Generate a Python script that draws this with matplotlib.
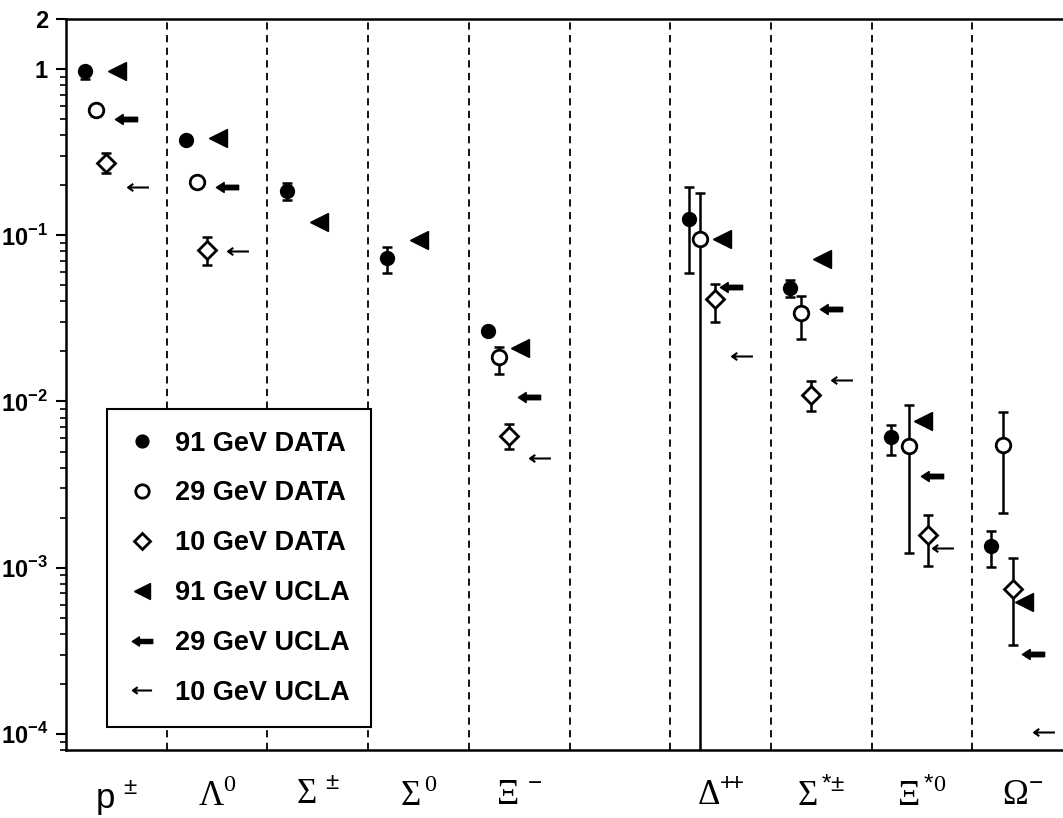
import numpy as np
import matplotlib
matplotlib.use("Agg")
import matplotlib.pyplot as plt
from matplotlib.path import Path
from matplotlib.ticker import FixedLocator, LogLocator, NullFormatter

plt.rcParams['font.family'] = ['Liberation Sans', 'DejaVu Sans']
plt.rcParams['mathtext.fontset'] = 'custom'
plt.rcParams['mathtext.rm'] = 'Liberation Sans'
plt.rcParams['mathtext.bf'] = 'Liberation Sans:bold'
plt.rcParams['mathtext.sf'] = 'Liberation Serif'

nan = np.nan

# particles (empty slot between Xi- and Delta++)
categories = [r'$\mathrm{p}^{\,\pm}$', r'$\mathsf{\Lambda}^{\mathsf{0}}$',
              r'$\mathsf{\Sigma}^{\,\pm}$', r'$\mathsf{\Sigma}^{\,\mathsf{0}}$',
              r'$\mathsf{\Xi}^{\,-}$', '',
              r'$\mathsf{\Delta}^{{+}\!{+}}$', r'$\mathsf{\Sigma}^{\,{*}{\pm}}$',
              r'$\mathsf{\Xi}^{\,{*}\mathsf{0}}$', r'$\mathsf{\Omega}^{-}$']

# y tick values and labels
yticks = [1e-4, 1e-3, 1e-2, 1e-1, 1, 2]
ytick_labels = [r'$\mathbf{10}^{\mathbf{-4}}$', r'$\mathbf{10}^{\mathbf{-3}}$',
                r'$\mathbf{10}^{\mathbf{-2}}$', r'$\mathbf{10}^{\mathbf{-1}}$',
                '1', '2']

# 91 GeV data
d91 = [0.97, 0.375, 0.185, 0.073, 0.0267, nan, 0.126, 0.0484, 0.00608, 0.00135]
d91_lo = [0.87, 0.375, 0.163, 0.059, 0.0267, nan, 0.0595, 0.0427, 0.00474, 0.00101]
d91_hi = [1.03, 0.375, 0.206, 0.085, 0.0267, nan, 0.195, 0.054, 0.00718, 0.00166]

# 29 GeV data
d29 = [0.567, 0.21, nan, nan, 0.0184, nan, 0.0953, 0.0342, 0.00537, 0.00544]
d29_lo = [0.567, 0.21, nan, nan, 0.0147, nan, 1e-6, 0.0239, 0.00122, 0.00212]
d29_hi = [0.567, 0.21, nan, nan, 0.0214, nan, 0.18, 0.0433, 0.00946, 0.0087]

# 10 GeV data
d10 = [0.272, 0.082, nan, nan, 0.0062, nan, 0.0415, 0.011, 0.00157, 0.000743]
d10_lo = [0.237, 0.066, nan, nan, 0.00515, nan, 0.0302, 0.0088, 0.00102, 0.000343]
d10_hi = [0.313, 0.097, nan, nan, 0.00728, nan, 0.051, 0.0132, 0.00207, 0.00114]

# UCLA model
u91 = [0.97, 0.385, 0.12, 0.094, 0.0211, nan, 0.095, 0.072, 0.00759, 0.00062]
u29 = [0.50, 0.195, nan, nan, 0.0107, nan, 0.049, 0.0362, 0.00355, 0.000302]
u10 = [0.195, 0.080, nan, nan, 0.00455, nan, 0.0189, 0.0134, 0.00131, 0.000103]

# arrow markers
thick_arrow = Path([(-1, 0), (-0.3, 0.45), (-0.3, 0.2), (1, 0.2), (1, -0.2),
                    (-0.3, -0.2), (-0.3, -0.45), (-1, 0)], closed=True)
thin_arrow = Path([(1, 0), (-1, 0), (-0.5, 0.35), (-1, 0), (-0.5, -0.35)],
                  [Path.MOVETO, Path.LINETO, Path.MOVETO, Path.LINETO, Path.LINETO])

fig = plt.figure(figsize=(10.63, 8.18), dpi=100)
ax = fig.add_axes([0.0621, 0.0831, 0.9379, 0.8937])

x = np.arange(len(categories), dtype=float)

def xpos(off, nudge=None):
    xs = x + off
    if nudge:
        for i, v in nudge.items():
            xs[i] = i + v
    return xs

x91 = xpos(0.19)
x29 = xpos(0.30, {8: 0.37})
x10 = xpos(0.40, {6: 0.44, 8: 0.56})

ebkw = dict(fmt='none', ecolor='black', elinewidth=1.8, capsize=3.3, capthick=1.8, zorder=2)
for xs, y, lo, hi in [(x91, d91, d91_lo, d91_hi), (x29, d29, d29_lo, d29_hi),
                      (x10, d10, d10_lo, d10_hi)]:
    y = np.array(y); lo = np.array(lo); hi = np.array(hi)
    ax.errorbar(xs, y, yerr=[y - lo, hi - y], **ebkw)

h1, = ax.plot(x91, d91, 'o', ls='none', color='black', ms=10, label='91 GeV DATA', zorder=3)
h2, = ax.plot(x29, d29, 'o', ls='none', mfc='white', mec='black', mew=2, ms=10.5,
              label='29 GeV DATA', zorder=3)
h3, = ax.plot(x10, d10, 'D', ls='none', mfc='white', mec='black', mew=2, ms=9,
              label='10 GeV DATA', zorder=3)
h4, = ax.plot(xpos(0.51), u91, '<', ls='none', color='black', ms=12.5,
              label='91 GeV UCLA', zorder=3)
h5, = ax.plot(xpos(0.60), u29, marker=thick_arrow, ls='none', color='black', ms=16,
              label='29 GeV UCLA', zorder=3)
h6, = ax.plot(xpos(0.71), u10, marker=thin_arrow, ls='none', mfc='none', mec='black',
              mew=1.5, ms=15, label='10 GeV UCLA', zorder=3)

# separators between particles
for b in x[1:]:
    ax.axvline(b, color='black', lw=1.3, ls=(0, (4, 3)), zorder=1)

ax.set_yscale('log')
ax.set_ylim(8e-5, 2)
ax.set_xlim(0, 9.9)

ax.yaxis.set_major_locator(FixedLocator(yticks))
ax.set_yticklabels(ytick_labels, fontsize=17, fontweight='bold')
ax.yaxis.set_minor_locator(LogLocator(base=10, subs=np.arange(2, 10)))
ax.yaxis.set_minor_formatter(NullFormatter())
ax.tick_params(axis='y', which='major', length=7, width=1.5, direction='out', pad=6)
ax.tick_params(axis='y', which='minor', length=4, width=1.2, direction='out')

ax.set_xticks(x + 0.5)
ax.set_xticklabels(categories, fontsize=25)
ax.tick_params(axis='x', length=0, pad=20)

for s in ['left', 'bottom', 'top']:
    ax.spines[s].set_linewidth(1.8)
ax.spines['right'].set_visible(False)

leg = ax.legend(handles=[h1, h2, h3, h4, h5, h6], loc='upper left',
                bbox_to_anchor=(0.041, 0.4665), borderaxespad=0, frameon=True,
                fancybox=False, edgecolor='black', framealpha=1,
                prop={'family': 'Liberation Sans', 'weight': 'bold', 'size': 19.5},
                handlelength=1.0, handletextpad=0.7, labelspacing=0.88,
                borderpad=0.8, markerscale=0.92)
leg.get_frame().set_linewidth(1.5)

fig.savefig('out.png', dpi=100)
